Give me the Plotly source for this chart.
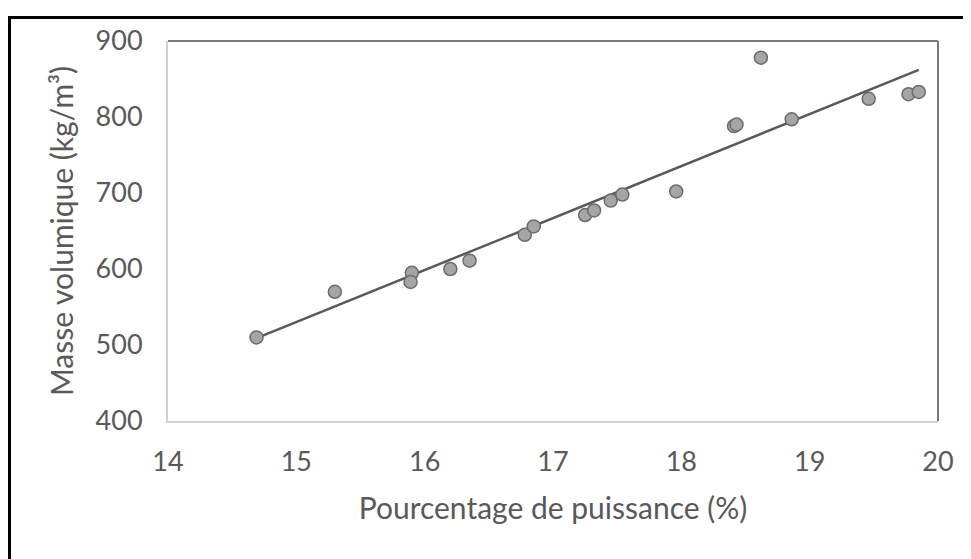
import numpy as np
import plotly.graph_objects as go

# values
puissance = [14.69, 15.30, 15.90, 15.89, 16.20, 16.35, 16.78, 16.85, 17.25, 17.32,
             17.45, 17.54, 17.96, 18.41, 18.43, 18.62, 18.86, 19.46, 19.77, 19.85]
masse = [510, 570, 595, 583, 600, 611, 645, 656, 671, 677,
         690, 698, 702, 788, 790, 878, 797, 824, 830, 833]
x_ticks = [14, 15, 16, 17, 18, 19, 20]
y_ticks = [400, 500, 600, 700, 800, 900]

# linear trend (as Excel would draw it)
slope, intercept = np.polyfit(puissance, masse, 1)
trend_x = [min(puissance), max(puissance)]
trend_y = [slope * v + intercept for v in trend_x]

# the page body adds 8px around the figure, so the figure is 8px smaller
W, H = 963, 551
L, R, T, B = 160, 33, 33, 137.5
pw, ph = W - L - R, H - T - B

fig = go.Figure()
fig.add_trace(
    go.Scatter(
        x=trend_x,
        y=trend_y,
        mode="lines",
        line=dict(color="#595959", width=2.5),
        showlegend=False,
    )
)
fig.add_trace(
    go.Scatter(
        x=puissance,
        y=masse,
        mode="markers",
        marker=dict(size=13, color="#a5a5a5", line=dict(color="#6b6b6b", width=1.5)),
        showlegend=False,
    )
)

family = "Lato, sans-serif"
tick_font = dict(family=family, size=27, color="#595959")
title_font = dict(family=family, size=30, color="#595959")
fig.update_xaxes(
    range=[14, 20],
    tickvals=x_ticks,
    showgrid=False,
    zeroline=False,
    showline=True,
    linecolor="#d0d0d0",
    linewidth=2,
    ticks="",
    tickfont=tick_font,
    ticklabelstandoff=16,
    automargin=False,
    title=dict(text="Pourcentage de puissance (%)", font=title_font, standoff=22),
)
fig.update_yaxes(
    range=[400, 900],
    tickvals=y_ticks,
    showgrid=False,
    zeroline=False,
    showline=True,
    linecolor="#d0d0d0",
    linewidth=2,
    ticks="",
    tickfont=tick_font,
    ticklabelstandoff=18,
    automargin=False,
    title=dict(text="Masse volumique (kg/m³)", font=title_font, standoff=13),
)

# top and right borders of the plot area are darker
fig.add_shape(type="line", xref="paper", yref="paper", x0=0, x1=1, y0=1, y1=1,
              line=dict(color="#7a7a7a", width=2))
fig.add_shape(type="line", xref="paper", yref="paper", x0=1, x1=1, y0=0, y1=1,
              line=dict(color="#7a7a7a", width=2))
# outer black frame
fig.add_shape(type="rect", xref="paper", yref="paper",
              x0=(1.5 - L) / pw, x1=(990 - L) / pw,
              y0=(H - B - 580) / ph, y1=(H - B - 9.5) / ph,
              line=dict(color="black", width=3), layer="above")

fig.update_layout(
    width=W,
    height=H,
    margin=dict(l=L, r=R, t=T, b=B),
    paper_bgcolor="white",
    plot_bgcolor="white",
)

fig.write_html("out.html")
